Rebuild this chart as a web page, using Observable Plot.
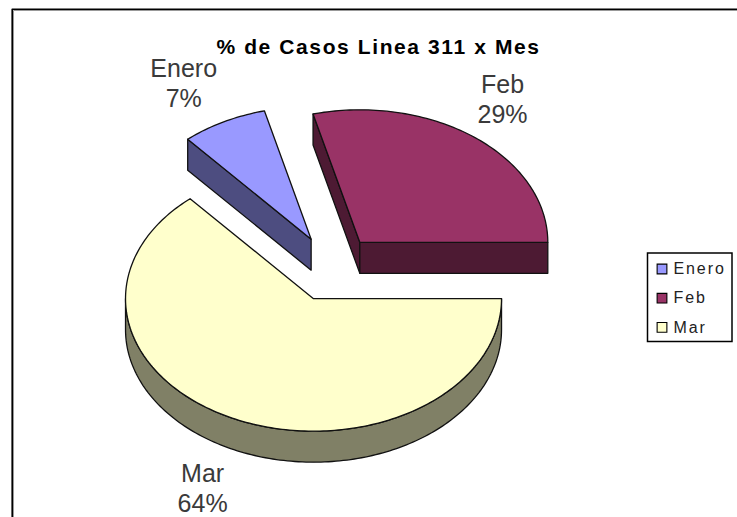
<!DOCTYPE html>
<html>
<head>
<meta charset="utf-8">
<style>
html,body{margin:0;padding:0;background:#fff}
svg{display:block}
</style>
<script src="https://cdn.jsdelivr.net/npm/d3@7"></script>
<script src="https://cdn.jsdelivr.net/npm/@observablehq/plot@0.6"></script>
</head>
<body>
<div id="chart"></div>
<script>
const titleText = "% de Casos Linea 311 x Mes";
const months = ["Enero", "Feb", "Mar"];
const shares = [7.4, 29.0, 63.6];
const shownPercent = ["7%", "29%", "64%"];
const topColors = ["#9999ff", "#993366", "#ffffcc"];
const sideColors = ["#4d4d80", "#4d1a33", "#808066"];

// layout of the pie in page pixels
const W = 737, H = 517;
const CX = 332, CY = 268, RX = 188, RY = 132.5, DEPTH = 31 / 132.5, EXPLODE = 0.25;
const toX = px => (px - CX) / RX, toY = py => (py - CY) / RY;
const sliceNudge = {Enero: 0.5, Feb: -1.5, Mar: 0.5};

// slice angles, clockwise on screen, Mar starting due east
const total = d3.sum(shares);
const order = [2, 0, 1];
let cum = 0;
const slices = order.map(i => {
  const a0 = cum; cum += shares[i] / total * 2 * Math.PI;
  const a1 = cum, mid = (a0 + a1) / 2;
  return {i, name: months[i], a0, a1, mid,
    ox: EXPLODE * Math.cos(mid) + sliceNudge[months[i]] / RX, oy: EXPLODE * Math.sin(mid)};
});
const arc = (s, a0, a1) => {
  const n = Math.max(2, Math.ceil(Math.abs(a1 - a0) / 0.02));
  return d3.range(n + 1).map(k => {
    const a = a0 + (a1 - a0) * k / n;
    return {x: s.ox + Math.cos(a), y: s.oy + Math.sin(a)};
  });
};
const apex = s => ({x: s.ox, y: s.oy});
const drop = p => ({x: p.x, y: p.y + DEPTH});

// polygons of each slice
const faces = [];
const addFace = (s, kind, pts) => faces.push(...pts.map(p => ({...p, id: s.name + kind, fill: kind === "top" ? topColors[s.i] : sideColors[s.i]})));
for (const s of slices) {
  // outer wall: part of rim that faces the viewer
  const w0 = Math.max(s.a0, 0), w1 = Math.min(s.a1, Math.PI);
  if (w1 > w0) {
    const r = arc(s, w0, w1);
    addFace(s, "rim", [...r, ...r.slice().reverse().map(drop)]);
  }
  // cut walls that face the viewer
  if (s.name === "Enero" || s.name === "Feb") {
    const p = arc(s, s.a0, s.a0)[0], q = apex(s);
    addFace(s, "cut", [p, q, drop(q), drop(p)]);
  }
  if (s.name === "Feb") {
    const q = apex(s), e = arc(s, s.a1, s.a1)[0];
    addFace(s, "cut2", [q, e, drop(e), drop(q)]);
  }
  addFace(s, "top", [apex(s), ...arc(s, s.a0, s.a1)]);
}

// data labels, anchored at the rim midpoint of each slice
const labelNudge = {Enero: [-40, -39], Feb: [27.5, -39], Mar: [-33, 37]};
const labels = slices.map(s => {
  const n = labelNudge[s.name];
  const x = s.ox + Math.cos(s.mid) + n[0] / RX;
  const y = s.oy + Math.sin(s.mid) + n[1] / RY + (s.name === "Mar" ? DEPTH : 0);
  return {x, y, text: s.name + "\n" + shownPercent[s.i]};
});

// legend rows
const legend = months.map((m, i) => ({
  name: m, color: topColors[i],
  x: toX(661.5), y: toY(268.5 + i * 29.2), tx: toX(673)
}));

const frameBlack = [{x: toX(11.7), y: toY(H + 5)}, {x: toX(11.7), y: toY(8.7)}, {x: toX(W + 5), y: toY(8.7)}];
const frameGrey = [{x: toX(13), y: toY(H + 5)}, {x: toX(13), y: toY(10)}, {x: toX(W + 5), y: toY(10)}];

const plot = Plot.plot({
  width: W, height: H,
  margin: 0,
  x: {domain: [toX(0), toX(W)], range: [0, W], axis: null},
  y: {domain: [toY(0), toY(H)], range: [0, H], axis: null},
  style: {background: "#fff", fontFamily: "'Liberation Sans', Arial, sans-serif"},
  marks: [
    // chart frame
    Plot.line(frameGrey, {x: "x", y: "y", stroke: "#999", strokeWidth: 1, fill: "none"}),
    Plot.line(frameBlack, {x: "x", y: "y", stroke: "#000", strokeWidth: 1.6, fill: "none"}),
    // pie
    Plot.line(faces, {
      x: "x", y: "y", z: "id", fill: "fill", stroke: "#111", strokeWidth: 1.3,
      curve: "linear-closed"
    }),
    Plot.text(labels, {
      x: "x", y: "y", text: "text", fontSize: 25, fill: "#3a3a3a", lineHeight: 1.2, lineAnchor: "middle"
    }),
    // title
    Plot.text([titleText], {
      x: () => toX(378), y: () => toY(47), text: d => d, fontSize: 21, fontWeight: "bold", fill: "#000"
    }),
    // legend
    Plot.rect([{}], {
      x1: () => toX(647.5), x2: () => toX(732), y1: () => toY(253), y2: () => toY(341.5),
      fill: "#fff", stroke: "#000", strokeWidth: 1.5
    }),
    Plot.dot(legend, {
      x: "x", y: "y", symbol: "square", r: 5.5, fill: "color", stroke: "#000", strokeWidth: 1.1
    }),
    Plot.text(legend, {
      x: "tx", y: "y", text: "name", textAnchor: "start", fontSize: 16, fill: "#222"
    })
  ]
});
plot.querySelectorAll("[aria-label='text']").forEach(g => {
  if (g.textContent.includes(titleText)) g.style.letterSpacing = "1.6px";
  else if (!g.textContent.includes("%")) g.style.letterSpacing = "1.9px";
});
document.getElementById("chart").appendChild(plot);
</script>
</body>
</html>
